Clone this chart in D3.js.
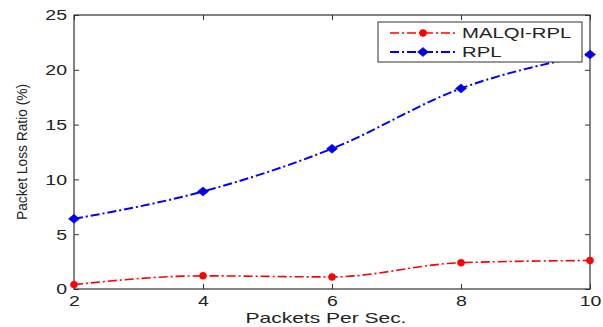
<!DOCTYPE html>
<html><head><meta charset="utf-8">
<script src="https://cdn.jsdelivr.net/npm/d3@7"></script>
<style>body{margin:0;background:#fff}svg{display:block}text{font-family:"Liberation Sans",Arial,sans-serif}</style>
</head><body><svg id="c" width="603" height="327"></svg>
<script>
const packets = [2, 4, 6, 8, 10];
const malqi = [0.4, 1.2, 1.1, 2.4, 2.6];
const rpl = [6.4, 8.9, 12.8, 18.3, 21.4];
const xTicks = [2, 4, 6, 8, 10];
const yTicks = [0, 5, 10, 15, 20, 25];
const seriesNames = ["MALQI-RPL", "RPL"];
const seriesColors = ["#ff0000", "#0000ff"];

const svg = d3.select("#c");
const L = 74, R = 590, T = 15, B = 289;
const x = d3.scaleLinear().domain([2, 10]).range([L, R]);
const y = d3.scaleLinear().domain([0, 25]).range([B, T]);

const g = svg.append("g");
g.append("rect").attr("x", L).attr("y", T).attr("width", R - L).attr("height", B - T)
  .attr("fill", "none").attr("stroke", "#333").attr("stroke-width", 1.2);

const ax = (axis, tr) => {
  const a = g.append("g").attr("transform", tr).call(axis);
  a.select(".domain").remove();
  a.selectAll("line").attr("stroke", "#333");
  a.selectAll("text").attr("fill", "#222").style("font-size", "15px").style("font-family", "'Liberation Sans',Arial,sans-serif");
  return a;
};
const bx = ax(d3.axisBottom(x).tickValues(xTicks).tickSize(-5).tickPadding(6).tickFormat(d3.format("d")), `translate(0,${B})`);
bx.selectAll("text").attr("transform", "scale(1.3,1)");
ax(d3.axisTop(x).tickValues(xTicks).tickSize(-5).tickFormat(""), `translate(0,${T})`);
const ly = ax(d3.axisLeft(y).tickValues(yTicks).tickSize(-5).tickPadding(7), `translate(${L},0)`);
ly.selectAll("text").attr("x", -7 / 1.3).attr("transform", "scale(1.3,1)");
ax(d3.axisRight(y).tickValues(yTicks).tickSize(-5).tickFormat(""), `translate(${R},0)`);

g.append("text").attr("transform", `translate(${(L + R) / 2 - 6},323) scale(1.5,1)`).attr("text-anchor", "middle")
  .attr("fill", "#222").style("font-size", "14px").text("Packets Per Sec.");
g.append("text").attr("transform", `translate(27,${(T + B) / 2}) rotate(-90) scale(0.95,1)`).attr("text-anchor", "middle")
  .attr("fill", "#222").style("font-size", "14.5px").text("Packet Loss Ratio (%)");

const line = d3.line().x((d, i) => x(packets[i])).y(d => y(d)).curve(d3.curveMonotoneX);
const data = [malqi, rpl];
const dash = "9,3,2,3";
const diamond = "M0,-4.5L5.5,0L0,4.5L-5.5,0Z";
const symOf = k => k ? diamond : d3.symbol(d3.symbolCircle, 38)();
data.forEach((s, k) => {
  g.append("path").attr("d", line(s)).attr("fill", "none").attr("stroke", seriesColors[k])
    .attr("stroke-width", k ? 2 : 1.6).attr("stroke-dasharray", dash);
  g.selectAll(null).data(s).enter().append("path").attr("d", symOf(k))
    .attr("transform", (d, i) => `translate(${x(packets[i])},${y(d)})`)
    .attr("fill", seriesColors[k]).attr("stroke", k ? "#1a1a80" : seriesColors[k]).attr("stroke-width", 0.6);
});

const lg = g.append("g");
lg.append("rect").attr("x", 378).attr("y", 22).attr("width", 204).attr("height", 40)
  .attr("fill", "#fff").attr("stroke", "#333").attr("stroke-width", 1);
seriesNames.forEach((n, k) => {
  const yy = 33 + k * 19;
  lg.append("line").attr("x1", 390).attr("x2", 455).attr("y1", yy).attr("y2", yy)
    .attr("stroke", seriesColors[k]).attr("stroke-width", k ? 2 : 1.6).attr("stroke-dasharray", dash);
  lg.append("path").attr("d", symOf(k)).attr("transform", `translate(423,${yy})`)
    .attr("fill", seriesColors[k]).attr("stroke", k ? "#1a1a80" : seriesColors[k]).attr("stroke-width", 0.6);
  lg.append("text").attr("transform", `translate(462,${yy + 5}) scale(1.45,1)`).attr("fill", "#222").style("font-size", "14px").text(n);
});
</script></body></html>
